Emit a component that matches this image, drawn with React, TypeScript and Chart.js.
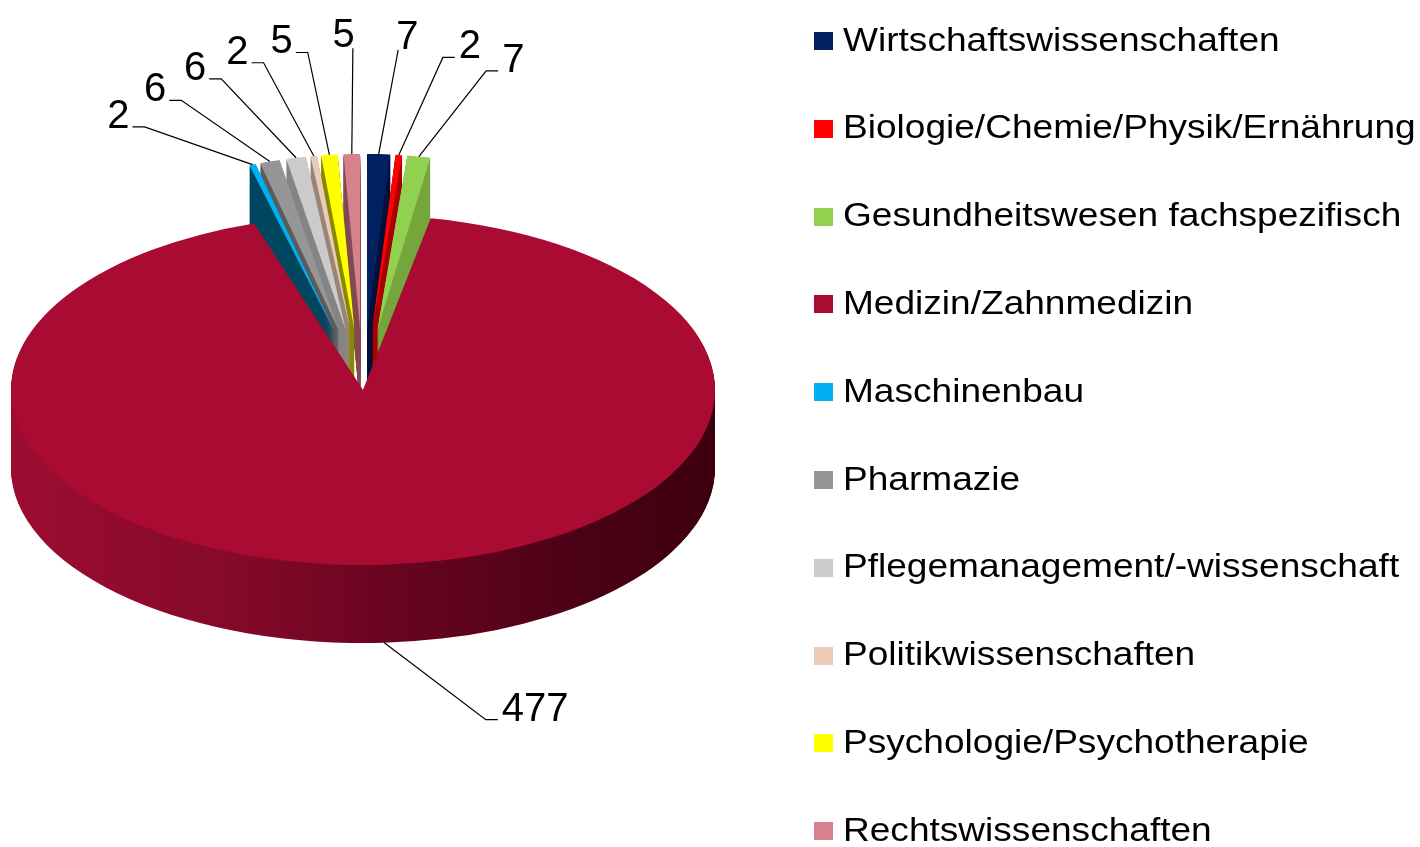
import React, { useEffect, useRef } from 'react';
import { Chart, registerables } from 'chart.js';

Chart.register(...registerables);

// ---------- data ----------
const categories = [
  'Wirtschaftswissenschaften',
  'Biologie/Chemie/Physik/Ernährung',
  'Gesundheitswesen fachspezifisch',
  'Medizin/Zahnmedizin',
  'Maschinenbau',
  'Pharmazie',
  'Pflegemanagement/-wissenschaft',
  'Politikwissenschaften',
  'Psychologie/Psychotherapie',
  'Rechtswissenschaften',
];
const values = [7, 2, 7, 477, 2, 6, 6, 2, 5, 5];
const sliceColors = ['#002060', '#FF0000', '#92D050', '#A90B33', '#00B0F0', '#969696', '#CBCBCB', '#EACBB5', '#FFFF00', '#D5828C'];
const wallColors = ['#00123A', '#A80000', '#76A63E', '#6E0624', '#00475F', '#5C5C5C', '#858585', '#9A8676', '#8A8A00', '#804C54'];

// ---------- style ----------
const FONT = "'Liberation Sans', Arial, Helvetica, sans-serif";
const RADIUS = 352;
const FLAT = 175 / 352;
const DEPTH = 78;
const EXPLODE_SHIFT = 123;
const BACK_SQUEEZE = 0.78;
const LABEL_RING_TOP = 342;
const LABEL_RING_BOTTOM = 280;
const SPREAD_TOP = 2.08;
const SPREAD_BOTTOM = 7.5;
const MIN_GAP = (7.6 * Math.PI) / 180;
const NEAR_VERTICAL = (7.5 * Math.PI) / 180;

const bigIndex = values.indexOf(Math.max(...values));

const norm = (a: number) => {
  while (a > Math.PI) a -= 2 * Math.PI;
  while (a <= -Math.PI) a += 2 * Math.PI;
  return a;
};

const squeezeOf = (i: number) => (i === bigIndex ? 1 : BACK_SQUEEZE);
const shiftOf = (i: number) => (i === bigIndex ? 0 : EXPLODE_SHIFT);

function rimPoint(arc: any, i: number) {
  const { x, y, startAngle, endAngle, outerRadius } = arc;
  const h = (startAngle + endAngle) / 2;
  const r = outerRadius + shiftOf(i);
  const sx = squeezeOf(i);
  return { X: x + sx * Math.cos(h) * r, Y: y + FLAT * Math.sin(h) * r, h };
}

const pie3d = {
  id: 'pie3d',
  beforeDatasetsDraw(chart: any) {
    const ctx = chart.ctx as CanvasRenderingContext2D;
    const meta = chart.getDatasetMeta(0);
    const arcs = meta.data as any[];
    const x0 = arcs[0].x;
    const grad = ctx.createLinearGradient(x0 - RADIUS, 0, x0 + RADIUS, 0);
    grad.addColorStop(0, '#9C0D31');
    grad.addColorStop(0.3, '#860A2A');
    grad.addColorStop(0.55, '#680420');
    grad.addColorStop(0.8, '#4C0216');
    grad.addColorStop(1, '#3C000E');
    const ghosts = arcs.map((arc, i) => {
      const g = Object.create(arc);
      g.options = { ...arc.options, backgroundColor: i === bigIndex ? grad : wallColors[i], borderWidth: 0 };
      return g;
    });
    const place = (arc: any, i: number, d: number) => {
      const sx = squeezeOf(i);
      const h = (arc.startAngle + arc.endAngle) / 2;
      const s = shiftOf(i);
      ctx.translate(arc.x * (1 - sx), arc.y * (1 - FLAT) + d);
      ctx.scale(sx, FLAT);
      ctx.translate(Math.cos(h) * s, Math.sin(h) * s);
    };
    for (let d = DEPTH; d >= 1; d--) {
      arcs.forEach((arc, i) => {
        ctx.save();
        place(arc, i, d);
        ghosts[i].draw(ctx);
        ctx.restore();
      });
    }
    arcs.forEach((arc, i) => {
      ctx.save();
      place(arc, i, 0);
      arc.draw(ctx);
      ctx.restore();
    });
    return false;
  },
  afterDraw(chart: any) {
    const ctx = chart.ctx as CanvasRenderingContext2D;
    const meta = chart.getDatasetMeta(0);
    const arcs = meta.data as any[];
    const x0 = arcs[0].x;
    const y0 = arcs[0].y;

    // label layout
    const items = arcs.map((arc, i) => {
      const p = rimPoint(arc, i);
      const t = norm(p.h + Math.PI / 2);
      const top = Math.abs(t) <= Math.PI / 2;
      const dev = top ? t : norm(t - Math.PI);
      return { i, p, top, theta: dev * (top ? SPREAD_TOP : SPREAD_BOTTOM) };
    });
    const topItems = items.filter((it) => it.top).sort((a, b) => a.theta - b.theta);
    for (let iter = 0; iter < 800; iter++) {
      for (let j = 0; j < topItems.length - 1; j++) {
        const gap = topItems[j + 1].theta - topItems[j].theta;
        if (gap < MIN_GAP) {
          const push = (MIN_GAP - gap) / 2;
          topItems[j].theta -= push;
          topItems[j + 1].theta += push;
        }
      }
    }

    ctx.save();
    ctx.strokeStyle = '#000';
    ctx.lineWidth = 1.2;
    ctx.fillStyle = '#000';
    ctx.font = `40px ${FONT}`;
    ctx.textBaseline = 'alphabetic';
    items.forEach((it) => {
      const ax = it.p.X;
      let ay = it.p.Y;
      let ex: number, ey: number, th: number;
      if (it.top) {
        th = it.theta;
        ex = x0 + LABEL_RING_TOP * Math.sin(th);
        ey = y0 - LABEL_RING_TOP * Math.cos(th);
      } else {
        ay += DEPTH;
        th = Math.PI + it.theta;
        ex = x0 + LABEL_RING_BOTTOM * Math.sin(th);
        ey = y0 + DEPTH - LABEL_RING_BOTTOM * Math.cos(th);
      }
      const nearVertical = it.top && Math.abs(it.theta) < NEAR_VERTICAL;
      const left = Math.sin(th) < 0;
      const stub = nearVertical ? 0 : 12;
      const sx = ex + (left ? -stub : stub);
      ctx.beginPath();
      ctx.moveTo(ax, ay);
      ctx.lineTo(ex, ey);
      if (stub) ctx.lineTo(sx, ey);
      ctx.stroke();
      const txt = String(values[it.i]);
      ctx.textAlign = left ? 'right' : 'left';
      if (nearVertical) {
        ctx.fillText(txt, ex + (left ? 2 : -2), ey - 1);
      } else {
        ctx.fillText(txt, sx + (left ? -3 : 4), ey + 1);
      }
    });
    ctx.restore();

    // legend
    ctx.save();
    ctx.font = `34px ${FONT}`;
    ctx.textAlign = 'left';
    ctx.textBaseline = 'alphabetic';
    const LEG_TOP = 41;
    const LEG_STEP = 87.8;
    categories.forEach((name, i) => {
      const yc = LEG_TOP + i * LEG_STEP;
      ctx.fillStyle = sliceColors[i];
      ctx.fillRect(814, Math.round(yc - 9), 19, 18);
      ctx.save();
      ctx.translate(843, yc + 9.5);
      ctx.scale(1.09, 1);
      ctx.fillStyle = '#000';
      ctx.fillText(name, 0, 0);
      ctx.restore();
    });
    ctx.restore();
  },
};

export default function App() {
  const ref = useRef<HTMLCanvasElement | null>(null);
  useEffect(() => {
    if (!ref.current) return;
    const chart = new Chart(ref.current, {
      type: 'pie',
      data: {
        labels: categories,
        datasets: [
          {
            data: values,
            backgroundColor: sliceColors,
            borderWidth: 0,
            clip: false as any,
          } as any,
        ],
      },
      options: {
        responsive: false,
        animation: false,
        devicePixelRatio: 1,
        events: [],
        radius: RADIUS,
        layout: { padding: { left: 11, right: 705, top: 40, bottom: 107 } },
        plugins: { legend: { display: false }, tooltip: { enabled: false } },
      } as any,
      plugins: [pie3d as any],
    });
    return () => chart.destroy();
  }, []);
  return (
    <div style={{ position: 'fixed', left: 0, top: 0, width: 1420, height: 847, background: '#fff' }}>
      <canvas ref={ref} width={1420} height={847} />
    </div>
  );
}
